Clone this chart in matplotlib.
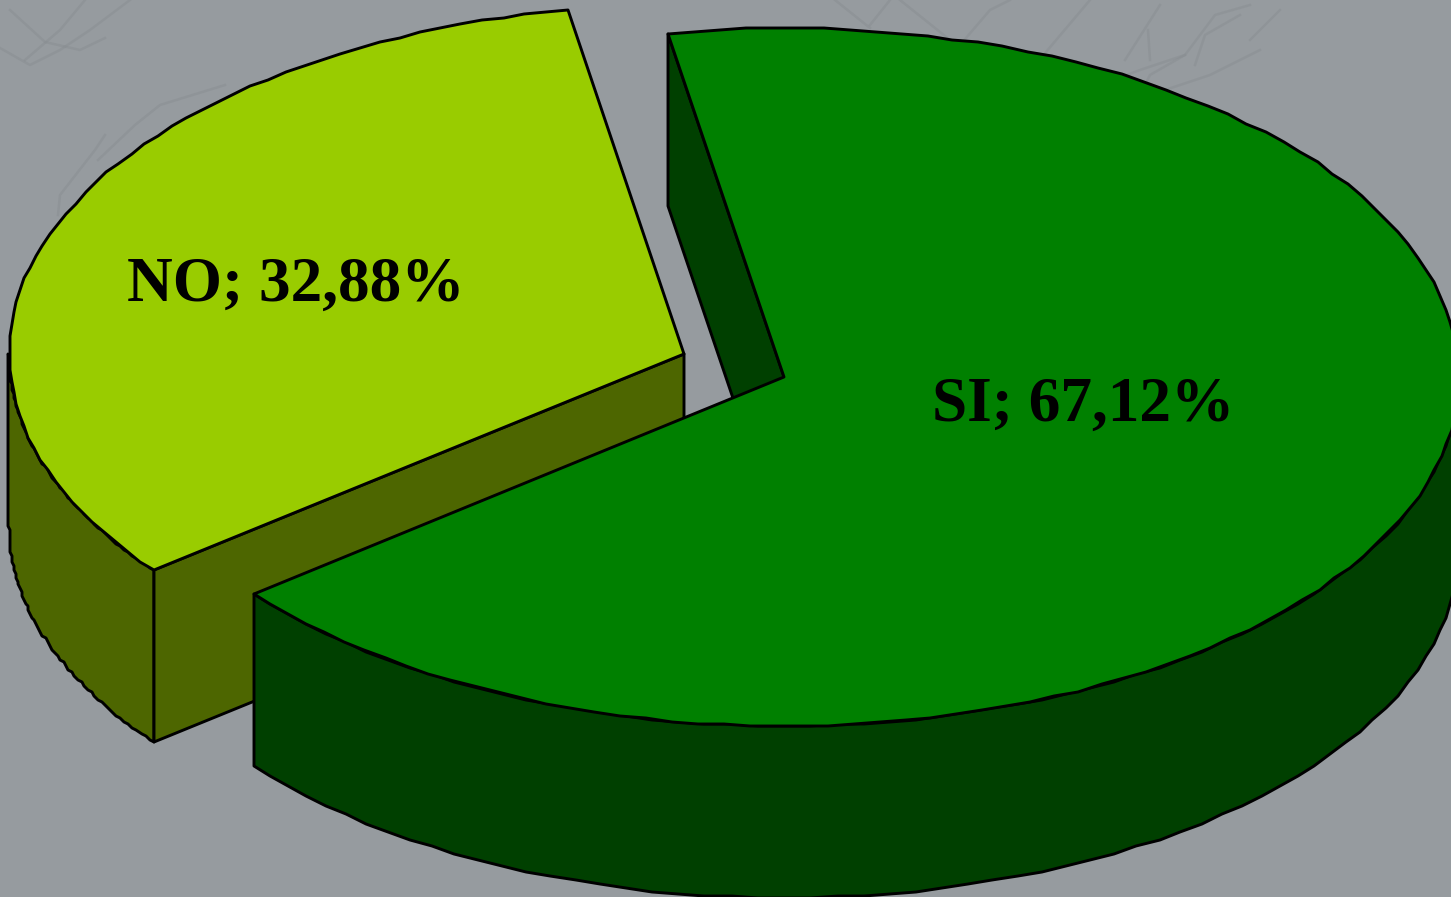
"""
Exploded 3D-look pie chart: SI / NO shares drawn as extruded elliptical wedges.
"""

import numpy as np
import matplotlib
matplotlib.use("Agg")
import matplotlib.pyplot as plt
from matplotlib.patches import Polygon

labels = ["SI", "NO"]
shares = [67.12, 32.88]
share_text = ["67,12%", "32,88%"]

top_colors = {"SI": "#008000", "NO": "#99CC00"}
side_colors = {"SI": "#004000", "NO": "#4D6600"}
BG = "#969B9F"
TEXTURE = "#858A8E"

W, H = 1451, 897
RX, RY = 675, 349
DEPTH = 172
START = 99.9
centers = {"SI": (784, 377), "NO": (684, 354)}
label_pos = {"SI": (1083.5, 421), "NO": (296, 301)}

# faint web in the slide background
web_lines = [
    [(0, 48), (30, 65), (60, 50), (90, 30), (130, 0)],
    [(10, 10), (45, 42), (80, 50), (105, 38)],
    [(25, 60), (60, 30), (85, 0)],
    [(58, 215), (60, 195), (95, 150), (105, 135)],
    [(98, 160), (135, 125), (160, 105), (225, 85)],
    [(835, 0), (870, 28)],
    [(870, 25), (890, 0)],
    [(900, 0), (950, 40)],
    [(960, 45), (990, 10), (1010, 0)],
    [(1035, 65), (1090, 0)],
    [(1125, 60), (1160, 5)],
    [(1150, 60), (1148, 30)],
    [(1100, 85), (1140, 70), (1185, 55), (1215, 15), (1250, 5)],
    [(1195, 65), (1205, 35), (1240, 15)],
    [(1135, 105), (1150, 75), (1185, 55)],
    [(1165, 90), (1210, 75), (1260, 50)],
    [(1250, 40), (1280, 10)],
]


def arc(center, a0, a1, drop=0, n=64, snap=2.0):
    # points along the pie rim, snapped so the outline wobbles like the original
    cx, cy = center
    t = np.radians(np.linspace(a0, a1, n))
    x = cx + RX * np.cos(t)
    y = cy - RY * np.sin(t)
    x = np.round(x / snap) * snap
    y = np.round(y / snap) * snap + drop
    return np.column_stack([x, y])


def face(ax, pts, color, z):
    ax.add_patch(Polygon(pts, closed=True, facecolor=color, edgecolor="black",
                         linewidth=2.1, joinstyle="round", zorder=z))


fig = plt.figure(figsize=(W / 100, H / 100), dpi=100, facecolor=BG)
ax = fig.add_axes([0, 0, 1, 1])
ax.set_xlim(0, W)
ax.set_ylim(H, 0)
ax.axis("off")

for line in web_lines:
    xs, ys = zip(*line)
    ax.plot(xs, ys, color=TEXTURE, linewidth=1.8, alpha=0.4, zorder=1)

sweep = [s / sum(shares) * 360 for s in shares]
si_end = START - sweep[0]
no_end = si_end - sweep[1]

# NO wedge: outer wall, cut face, top
c = centers["NO"]
rim = arc(c, si_end, -180)
face(ax, np.vstack([rim, arc(c, -180, si_end, drop=DEPTH)]), side_colors["NO"], 2)
corner = arc(c, si_end, si_end, n=1)[0]
face(ax, [c, tuple(corner), (corner[0], corner[1] + DEPTH), (c[0], c[1] + DEPTH)], side_colors["NO"], 3)
face(ax, np.vstack([[c], arc(c, no_end, si_end)]), top_colors["NO"], 4)

# SI wedge: back cut face, outer wall, top
c = centers["SI"]
corner = arc(c, START, START, n=1)[0]
face(ax, [c, tuple(corner), (corner[0], corner[1] + DEPTH), (c[0], c[1] + DEPTH)], side_colors["SI"], 5)
rim = arc(c, si_end, 0)
face(ax, np.vstack([rim, arc(c, 0, si_end, drop=DEPTH)]), side_colors["SI"], 6)
face(ax, np.vstack([[c], arc(c, START, si_end, n=110)]), top_colors["SI"], 7)

for name, share in zip(labels, share_text):
    x, y = label_pos[name]
    ax.text(x, y, f"{name}; {share}", ha="center", va="baseline", color="black",
            fontsize=45.5, fontweight="bold", family="Liberation Serif", zorder=8)

fig.savefig("out.png", dpi=100, facecolor=BG)
